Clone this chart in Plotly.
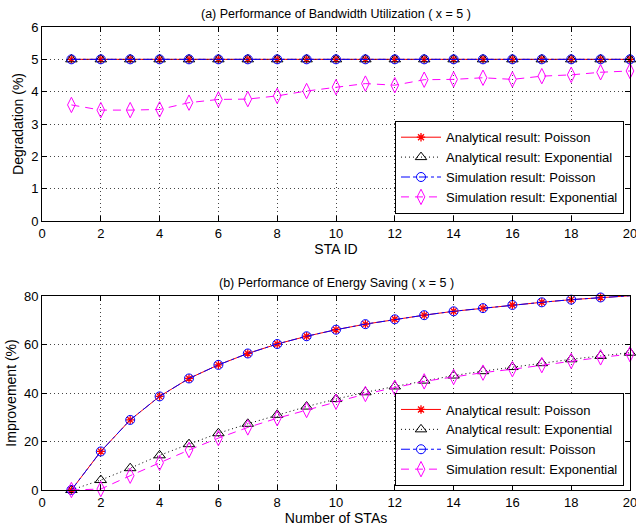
import plotly.graph_objects as go

sta_ids = list(range(1, 21))
bw_analytical_poisson = [5.0] * 20
bw_analytical_exp = [5.0] * 20
bw_sim_poisson = [5.0] * 20
bw_sim_exp = [3.59, 3.43, 3.43, 3.45, 3.66, 3.76, 3.77, 3.87, 4.02, 4.14,
              4.25, 4.2, 4.37, 4.38, 4.43, 4.38, 4.48, 4.52, 4.6, 4.64]

num_stas = list(range(1, 21))
es_analytical_poisson = [0, 15.9, 28.9, 38.6, 46.0, 51.6, 56.3, 60.2, 63.4, 66.1,
                         68.4, 70.4, 72.1, 73.7, 75.0, 76.3, 77.4, 78.5, 79.4, 80.1]
es_analytical_exp = [0, 4.1, 9.0, 14.3, 18.9, 23.4, 27.3, 31.0, 34.4, 37.5,
                     40.3, 42.7, 45.1, 47.2, 49.0, 50.7, 52.3, 53.9, 55.3, 56.6]
es_sim_poisson = list(es_analytical_poisson)
es_sim_exp = [0, 0.4, 5.9, 11.2, 16.5, 21.4, 25.8, 29.6, 33.0, 36.4,
              39.6, 42.2, 44.8, 46.6, 48.4, 49.8, 51.5, 53.2, 54.7, 56.0]

labels = ["Analytical result: Poisson", "Analytical result: Exponential",
          "Simulation result: Poisson", "Simulation result: Exponential"]

styles = [
    dict(line=dict(color="red", width=1, dash="solid"),
         marker=dict(symbol="asterisk-open", size=7, color="red", line=dict(color="red", width=1.3))),
    dict(line=dict(color="black", width=1, dash="1px,3px"),
         marker=dict(symbol="triangle-up-open", size=10, color="black", line=dict(color="black", width=1))),
    dict(line=dict(color="blue", width=1, dash="dashdot"),
         marker=dict(symbol="circle-open", size=9, color="blue", line=dict(color="blue", width=1))),
    dict(line=dict(color="magenta", width=1, dash="8px,6px"),
         marker=dict(symbol="diamond-tall-open", size=11, color="magenta", line=dict(color="magenta", width=1))),
]

fig = go.Figure()
top_series = [bw_analytical_poisson, bw_analytical_exp, bw_sim_poisson, bw_sim_exp]
bot_series = [es_analytical_poisson, es_analytical_exp, es_sim_poisson, es_sim_exp]
for lab, ys, st in zip(labels, top_series, styles):
    fig.add_trace(go.Scatter(x=sta_ids, y=ys, name=lab, mode="lines+markers",
                             xaxis="x", yaxis="y", legend="legend", cliponaxis=False, **st))
for lab, ys, st in zip(labels, bot_series, styles):
    fig.add_trace(go.Scatter(x=num_stas, y=ys, name=lab, mode="lines+markers",
                             xaxis="x2", yaxis="y2", legend="legend2", cliponaxis=False, **st))

font = dict(family="Liberation Sans, Arial, sans-serif", size=12, color="black")
axis_common = dict(showline=True, linecolor="black", linewidth=1, mirror="allticks",
                   ticks="inside", ticklen=5, tickcolor="black", showgrid=True,
                   gridcolor="#444", griddash="1px,3px", gridwidth=1, zeroline=False,
                   tickfont=dict(size=13), ticklabeloverflow="allow", automargin=False)

legend_common = dict(bgcolor="white", bordercolor="black", borderwidth=1.2,
                     font=dict(size=13), xanchor="left", yanchor="bottom",
                     tracegroupgap=0, itemwidth=40)

fig.update_layout(
    width=636, height=528,
    margin=dict(l=42, r=6, t=27, b=38),
    paper_bgcolor="white", plot_bgcolor="white",
    font=font,
    xaxis=dict(domain=[0, 1], range=[0, 20], dtick=2, anchor="y",
               title=dict(text="STA ID", standoff=0), **axis_common),
    yaxis=dict(domain=[0.581, 1], range=[0, 6], dtick=1, anchor="x",
               title=dict(text="Degradation (%)", standoff=4), **axis_common),
    xaxis2=dict(domain=[0, 1], range=[0, 20], dtick=2, anchor="y2",
                title=dict(text="Number of STAs", standoff=0), **axis_common),
    yaxis2=dict(domain=[0, 0.419], range=[0, 80], dtick=20, anchor="x2",
                title=dict(text="Improvement (%)", standoff=4), **axis_common),
    legend=dict(x=0.600, y=0.596, **legend_common),
    legend2=dict(x=0.600, y=0.008, **legend_common),
    annotations=[
        dict(text="(a) Performance of Bandwidth Utilization ( x = 5 )", x=0.5, y=1,
             xref="paper", yref="paper", xanchor="center", yanchor="bottom",
             yshift=4, showarrow=False, font=dict(size=12.5)),
        dict(text="(b) Performance of Energy Saving ( x = 5 )", x=0.5, y=0.419,
             xref="paper", yref="paper", xanchor="center", yanchor="bottom",
             yshift=4, showarrow=False, font=dict(size=12.5)),
    ],
    showlegend=True,
)

fig.write_html("out.html", config={"displayModeBar": False},
               post_script="document.body.style.margin='0';document.body.style.overflow='hidden';")
